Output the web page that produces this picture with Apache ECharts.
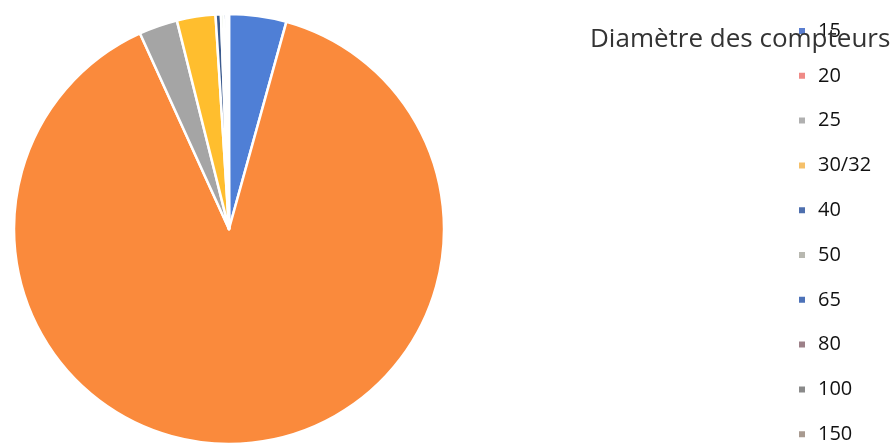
<!DOCTYPE html>
<html>
<head>
<meta charset="utf-8">
<script src="https://cdn.jsdelivr.net/npm/echarts@6/dist/echarts.min.js"></script>
<style>
  html, body { margin: 0; padding: 0; background: #fff; }
</style>
</head>
<body>
<div id="main" style="width: 896px; height: 446px;"></div>
<script>
var categories = ['15', '20', '25', '30/32', '40', '50', '65', '80', '100', '150'];
var values = [4.3, 88.9, 2.9, 2.9, 0.4, 0.2, 0.2, 0.1, 0.05, 0.05];
var sliceColors = ['#4f7fd6', '#fa8a3c', '#a5a5a5', '#ffbe2e', '#3b5a8e', '#6f9f58', '#2f5597', '#9b7a86', '#7c7c7c', '#9f9188'];
var legendColors = ['#5a7ed0', '#ef8a86', '#b0b0b0', '#f5c06a', '#4e6fae', '#b8b8b0', '#4d72b8', '#9c8088', '#8a8a8a', '#a89a90'];

var myChart = echarts.init(document.getElementById('main'));

var pieData = categories.map(function (c, i) {
  return { name: c, value: values[i], itemStyle: { color: sliceColors[i] } };
});
var legendData = categories.map(function (c, i) {
  return { name: c, itemStyle: { color: legendColors[i] } };
});

var option = {
  backgroundColor: '#ffffff',
  animation: false,
  title: {
    text: 'Diamètre des compteurs',
    left: 585,
    top: 22,
    textStyle: {
      fontFamily: 'Open Sans',
      fontSize: 26,
      fontWeight: 'normal',
      color: '#333333'
    }
  },
  legend: {
    orient: 'vertical',
    left: 797,
    top: 21,
    height: 425,
    padding: 0,
    itemWidth: 8,
    itemHeight: 8,
    itemGap: 24.8,
    icon: 'rect',
    data: legendData,
    textStyle: {
      fontFamily: 'Open Sans',
      fontSize: 20,
      lineHeight: 20,
      color: '#111111',
      padding: [0, 0, 0, 7]
    }
  },
  series: [
    {
      type: 'pie',
      center: [229, 229],
      radius: 215,
      startAngle: 90,
      clockwise: true,
      label: { show: false },
      labelLine: { show: false },
      itemStyle: { borderColor: '#ffffff', borderWidth: 2.5 },
      data: pieData
    }
  ]
};

myChart.setOption(option);
</script>
</body>
</html>
